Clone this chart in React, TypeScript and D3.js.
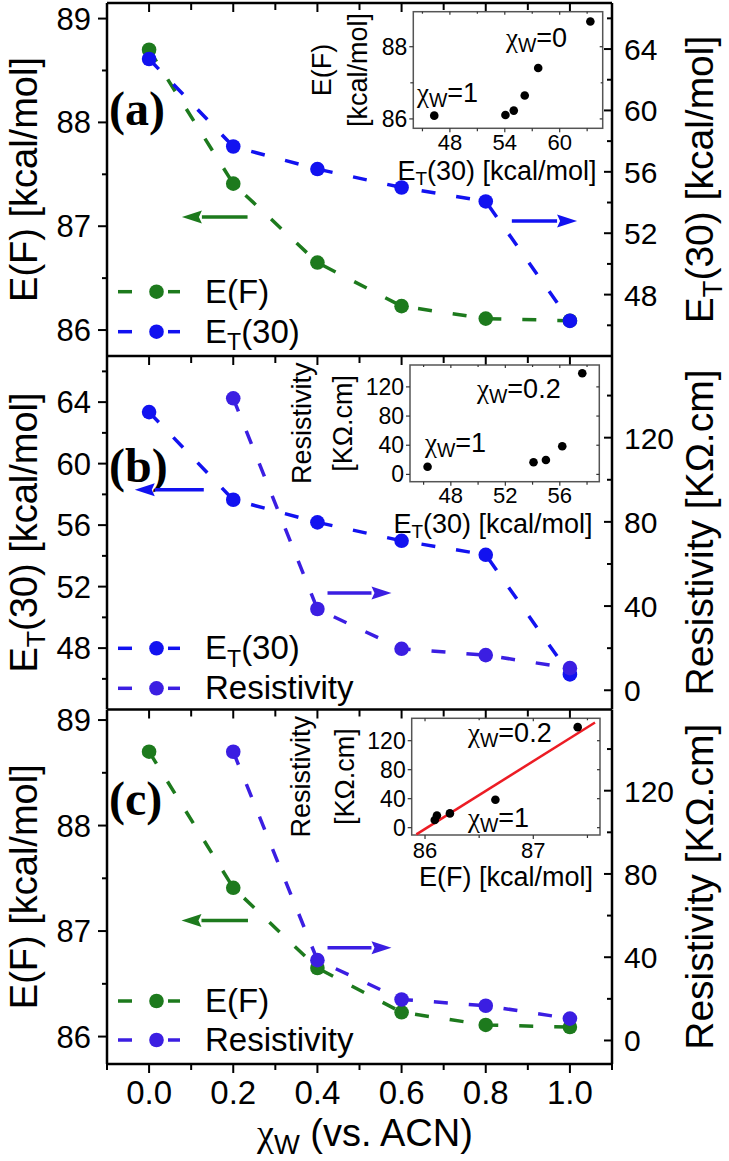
import React from "react";
import * as d3 from "d3";

// ---------------- data ----------------
const xW = [0, 0.2, 0.4, 0.6, 0.8, 1.0];
const eF = [88.7, 87.41, 86.65, 86.23, 86.11, 86.09];
const eT30 = [63.35, 57.65, 56.18, 54.98, 54.07, 46.29];
const xWRes = [0.2, 0.4, 0.6, 0.8, 1.0];
const resistivity = [138.7, 38.6, 19.7, 16.7, 10.5];

const xTicks = [0, 0.2, 0.4, 0.6, 0.8, 1.0];
const xTickLabels = ["0.0", "0.2", "0.4", "0.6", "0.8", "1.0"];
const xMinor = [0.1, 0.3, 0.5, 0.7, 0.9];
const eFTicks = [86, 87, 88, 89];
const eFMinor = [86.5, 87.5, 88.5];
const eTTicks = [48, 52, 56, 60, 64];
const eTMinor = [46, 50, 54, 58, 62, 66];
const resTicks = [0, 40, 80, 120];
const resMinor = [20, 60, 100, 140];

const insetAXTicks = [48, 54, 60];
const insetAXMinor = [45, 51, 57, 63];
const insetAYTicks = [86, 88];
const insetAYMinor = [87];
const insetBXTicks = [48, 52, 56];
const insetBXMinor = [46, 50, 54, 58];
const insetCXTicks = [86, 87];
const insetCXMinor = [86.5, 87.5];
const insetResTicks = [0, 40, 80, 120];

// ---------------- style ----------------
const SANS = "'Liberation Sans', Arial, sans-serif";
const SERIF = "'Liberation Serif', 'Times New Roman', serif";
const GREEN = "#1d7a1d";
const BLUE = "#1212f0";
const PURPLE = "#3b1ee2";
const RED = "#ec1c24";

const L = 107;
const R = 612;
const xScale = d3.scaleLinear().domain([-0.1, 1.1]).range([L, R]);

// linear fit for inset (c)
const fit = (() => {
  const xs = eF.slice(1);
  const ys = resistivity;
  const mx = d3.mean(xs) as number;
  const my = d3.mean(ys) as number;
  let sxy = 0, sxx = 0;
  xs.forEach((v, i) => { sxy += (v - mx) * (ys[i] - my); sxx += (v - mx) * (v - mx); });
  const slope = sxy / sxx;
  return { slope, intercept: my - slope * mx };
})();

const ET = (size: number) => (
  <>
    <tspan>E</tspan>
    <tspan fontSize={size * 0.7} dy={size * 0.22}>T</tspan>
    <tspan dy={-size * 0.22}>(30)</tspan>
  </>
);

const Chi = (size: number, rest: string) => (
  <>
    <tspan fontFamily={SERIF}>χ</tspan>
    <tspan fontSize={size * 0.72} dy={size * 0.2}>W</tspan>
    <tspan dy={-size * 0.2}>{rest}</tspan>
  </>
);

type Series = { xs: number[]; ys: number[]; side: "left" | "right"; color: string };

function Arrow({ x1, x2, y, color }: { x1: number; x2: number; y: number; color: string }) {
  const dir = x2 > x1 ? 1 : -1;
  const head = 20;
  const half = 6.5;
  const base = x2 - dir * head;
  return (
    <g>
      <line x1={x1} x2={base} y1={y} y2={y} stroke={color} strokeWidth={3.5} />
      <polygon points={`${x2},${y} ${base},${y - half} ${base + dir * 3},${y} ${base},${y + half}`} fill={color} />
    </g>
  );
}

function Panel({ cfg }: { cfg: any }) {
  const yl = d3.scaleLinear().domain(cfg.left.domain).range([cfg.bottom, cfg.top]);
  const yr = d3.scaleLinear().domain(cfg.right.domain).range([cfg.bottom, cfg.top]);
  const mid = (cfg.top + cfg.bottom) / 2;
  const line = (s: Series) => {
    const ys = s.side === "left" ? yl : yr;
    return d3.line<number>().x((_, i) => xScale(s.xs[i])).y((v) => ys(v))(s.ys) as string;
  };
  return (
    <g>
      <line x1={L} x2={R} y1={cfg.top} y2={cfg.top} stroke="#000" strokeWidth={2.5} />
      <line x1={L} x2={L} y1={cfg.top} y2={cfg.bottom} stroke="#000" strokeWidth={2.5} />
      <line x1={R} x2={R} y1={cfg.top} y2={cfg.bottom} stroke="#000" strokeWidth={2.5} />
      {xTicks.map((t) => (
        <line key={"tx" + t} x1={xScale(t)} x2={xScale(t)} y1={cfg.top} y2={cfg.top + 9} stroke="#000" strokeWidth={2} />
      ))}
      {xMinor.map((t) => (
        <line key={"tm" + t} x1={xScale(t)} x2={xScale(t)} y1={cfg.top} y2={cfg.top + 7} stroke="#000" strokeWidth={2} />
      ))}
      {cfg.left.ticks.map((t: number) => (
        <g key={"l" + t}>
          <line x1={L - 9} x2={L} y1={yl(t)} y2={yl(t)} stroke="#000" strokeWidth={2} />
          <text x={91} y={yl(t) + 11} textAnchor="end" fontFamily={SANS} fontSize={31}>{t}</text>
        </g>
      ))}
      {cfg.left.minor.map((t: number) => (
        <line key={"lm" + t} x1={L - 5} x2={L} y1={yl(t)} y2={yl(t)} stroke="#000" strokeWidth={2} />
      ))}
      {cfg.right.ticks.map((t: number) => (
        <g key={"r" + t}>
          <line x1={R - 8} x2={R} y1={yr(t)} y2={yr(t)} stroke="#000" strokeWidth={2} />
          <text x={624} y={yr(t) + 11} textAnchor="start" fontFamily={SANS} fontSize={30}>{t}</text>
        </g>
      ))}
      {cfg.right.minor.map((t: number) => (
        <line key={"rm" + t} x1={R - 5} x2={R} y1={yr(t)} y2={yr(t)} stroke="#000" strokeWidth={2} />
      ))}
      <text transform={`translate(37,${mid}) rotate(-90)`} textAnchor="middle" fontFamily={SANS} fontSize={38}>
        {cfg.left.title}
      </text>
      <text transform={`translate(713,${mid}) rotate(-90)`} textAnchor="middle" fontFamily={SANS} fontSize={39}>
        {cfg.right.title}
      </text>
      <text x={109} y={cfg.labelY} fontFamily={SERIF} fontWeight="bold" fontSize={48}>{cfg.label}</text>
      <Inset cfg={cfg.inset} />
      {cfg.series.map((s: Series, i: number) => (
        <g key={"s" + i}>
          <path d={line(s)} fill="none" stroke={s.color} strokeWidth={3.5} strokeDasharray="14,21" />
          {s.xs.map((xv, j) => (
            <circle key={j} cx={xScale(xv)} cy={(s.side === "left" ? yl : yr)(s.ys[j])} r={7.3} fill={s.color} />
          ))}
        </g>
      ))}
      {cfg.arrows.map((a: any, i: number) => (
        <Arrow key={"a" + i} x1={xScale(a.from)} x2={xScale(a.to)} y={(a.side === "left" ? yl : yr)(a.value)} color={a.color} />
      ))}
      {cfg.legend.map((lg: any, i: number) => (
        <g key={"lg" + i}>
          <line x1={118} x2={132} y1={lg.y} y2={lg.y} stroke={lg.color} strokeWidth={3.5} />
          <line x1={168} x2={180} y1={lg.y} y2={lg.y} stroke={lg.color} strokeWidth={3.5} />
          <circle cx={156.5} cy={lg.y} r={7.3} fill={lg.color} />
          <text x={205} y={lg.y + 11} fontFamily={SANS} fontSize={33}>{lg.label}</text>
        </g>
      ))}
    </g>
  );
}

function Inset({ cfg }: { cfg: any }) {
  const xs = d3.scaleLinear().domain(cfg.xDomain).range([cfg.x0, cfg.x1]);
  const ys = d3.scaleLinear().domain(cfg.yDomain).range([cfg.y1, cfg.y0]);
  const cy = (cfg.y0 + cfg.y1) / 2;
  return (
    <g>
      <rect x={cfg.x0} y={cfg.y0} width={cfg.x1 - cfg.x0} height={cfg.y1 - cfg.y0} fill="#fff" stroke="#555" strokeWidth={1.5} />
      {cfg.xTicks.map((t: number) => (
        <g key={"x" + t}>
          <line x1={xs(t)} x2={xs(t)} y1={cfg.y1} y2={cfg.y1 + 4} stroke="#333" strokeWidth={1.2} />
          <line x1={xs(t)} x2={xs(t)} y1={cfg.y0} y2={cfg.y0 + 3} stroke="#333" strokeWidth={1.2} />
          <text x={xs(t)} y={cfg.xLabelY} textAnchor="middle" fontFamily={SANS} fontSize={22}>{t}</text>
        </g>
      ))}
      {cfg.xMinor.map((t: number) => (
        <g key={"xm" + t}>
          <line x1={xs(t)} x2={xs(t)} y1={cfg.y1} y2={cfg.y1 + 3} stroke="#333" strokeWidth={1.2} />
          <line x1={xs(t)} x2={xs(t)} y1={cfg.y0} y2={cfg.y0 + 2} stroke="#333" strokeWidth={1.2} />
        </g>
      ))}
      {cfg.yTicks.map((t: number) => (
        <g key={"y" + t}>
          <line x1={cfg.x0 - 4} x2={cfg.x0} y1={ys(t)} y2={ys(t)} stroke="#333" strokeWidth={1.2} />
          <line x1={cfg.x1 - 3} x2={cfg.x1} y1={ys(t)} y2={ys(t)} stroke="#333" strokeWidth={1.2} />
          <text x={cfg.x0 - 6} y={ys(t) + 8} textAnchor="end" fontFamily={SANS} fontSize={23}>{t}</text>
        </g>
      ))}
      {cfg.yMinor.map((t: number) => (
        <g key={"ym" + t}>
          <line x1={cfg.x0 - 3} x2={cfg.x0} y1={ys(t)} y2={ys(t)} stroke="#333" strokeWidth={1.2} />
          <line x1={cfg.x1 - 2} x2={cfg.x1} y1={ys(t)} y2={ys(t)} stroke="#333" strokeWidth={1.2} />
        </g>
      ))}
      {cfg.fit && (
        <line
          x1={xs(cfg.fit.from)} y1={ys(fit.intercept + fit.slope * cfg.fit.from)}
          x2={xs(cfg.fit.to)} y2={ys(fit.intercept + fit.slope * cfg.fit.to)}
          stroke={RED} strokeWidth={2.5}
        />
      )}
      {cfg.px.map((v: number, i: number) => (
        <circle key={i} cx={xs(v)} cy={ys(cfg.py[i])} r={4.3} fill="#000" />
      ))}
      <text x={cfg.xTitleX} y={cfg.xTitleY} textAnchor="middle" fontFamily={SANS} fontSize={27}>{cfg.xTitle}</text>
      {cfg.yTitles.map((yt: any, i: number) => (
        <text key={i} transform={`translate(${yt.x},${cy}) rotate(-90)`} textAnchor="middle" fontFamily={SANS} fontSize={27}>
          {yt.text}
        </text>
      ))}
      {cfg.notes.map((n: any, i: number) => (
        <text key={i} x={n.x} y={n.y} fontFamily={SANS} fontSize={27}>{Chi(27, n.text)}</text>
      ))}
    </g>
  );
}

const EFTitle = "E(F) [kcal/mol]";
const ETTitle = <>{ET(39)}<tspan> [kcal/mol]</tspan></>;
const ETTitleL = <>{ET(38)}<tspan> [kcal/mol]</tspan></>;
const ResTitle = "Resistivity [KΩ.cm]";

const panels = [
  {
    top: 3, bottom: 356, label: "(a)", labelY: 125,
    left: { domain: [85.75, 89.15], ticks: eFTicks, minor: eFMinor, title: EFTitle },
    right: { domain: [44, 67], ticks: eTTicks, minor: eTMinor, title: ETTitle },
    series: [
      { xs: xW, ys: eF, side: "left", color: GREEN },
      { xs: xW, ys: eT30, side: "right", color: BLUE },
    ],
    arrows: [
      { from: 0.234, to: 0.078, value: 87.09, side: "left", color: GREEN },
      { from: 0.862, to: 1.017, value: 52.8, side: "right", color: BLUE },
    ],
    legend: [
      { y: 291.7, color: GREEN, label: "E(F)" },
      { y: 331.7, color: BLUE, label: ET(33) },
    ],
    inset: {
      x0: 413.3, x1: 602.7, y0: 11.7, y1: 128.3,
      xDomain: [44.0, 64.7], yDomain: [85.74, 88.97],
      xTicks: insetAXTicks, xMinor: insetAXMinor, yTicks: insetAYTicks, yMinor: insetAYMinor,
      px: eT30, py: eF, xLabelY: 150,
      xTitle: <>{ET(27)}<tspan> [kcal/mol]</tspan></>, xTitleX: 497, xTitleY: 179.5,
      yTitles: [{ x: 331, text: "E(F)" }, { x: 367, text: "[kcal/mol]" }],
      notes: [{ x: 506, y: 47, text: "=0" }, { x: 417, y: 102, text: "=1" }],
    },
  },
  {
    top: 356, bottom: 709, label: "(b)", labelY: 481.5,
    left: { domain: [44.04, 67.0], ticks: eTTicks, minor: eTMinor, title: ETTitleL },
    right: { domain: [-8.9, 158.8], ticks: resTicks, minor: resMinor, title: ResTitle },
    series: [
      { xs: xW, ys: eT30, side: "left", color: BLUE },
      { xs: xWRes, ys: resistivity, side: "right", color: PURPLE },
    ],
    arrows: [
      { from: 0.13, to: -0.034, value: 58.3, side: "left", color: BLUE },
      { from: 0.424, to: 0.576, value: 46.2, side: "right", color: PURPLE },
    ],
    legend: [
      { y: 648.3, color: BLUE, label: ET(33) },
      { y: 688.3, color: PURPLE, label: "Resistivity" },
    ],
    inset: {
      x0: 410, x1: 599.3, y0: 365, y1: 481.7,
      xDomain: [45.0, 58.9], yDomain: [-10, 150],
      xTicks: insetBXTicks, xMinor: insetBXMinor, yTicks: insetResTicks, yMinor: [],
      px: eT30.slice(1), py: resistivity, xLabelY: 503,
      xTitle: <>{ET(27)}<tspan> [kcal/mol]</tspan></>, xTitleX: 493, xTitleY: 532.5,
      yTitles: [{ x: 311, text: "Resistivity" }, { x: 352, text: "[KΩ.cm]" }],
      notes: [{ x: 477, y: 398, text: "=0.2" }, { x: 425, y: 452, text: "=1" }],
    },
  },
  {
    top: 709.5, bottom: 1064, label: "(c)", labelY: 815,
    left: { domain: [85.74, 89.1], ticks: eFTicks, minor: eFMinor, title: EFTitle },
    right: { domain: [-11.3, 159], ticks: resTicks, minor: resMinor, title: ResTitle },
    series: [
      { xs: xW, ys: eF, side: "left", color: GREEN },
      { xs: xWRes, ys: resistivity, side: "right", color: PURPLE },
    ],
    arrows: [
      { from: 0.235, to: 0.077, value: 87.1, side: "left", color: GREEN },
      { from: 0.424, to: 0.576, value: 44.5, side: "right", color: PURPLE },
    ],
    legend: [
      { y: 1001, color: GREEN, label: "E(F)" },
      { y: 1040, color: PURPLE, label: "Resistivity" },
    ],
    inset: {
      x0: 411.7, x1: 600, y0: 718.3, y1: 835,
      xDomain: [85.877, 87.616], yDomain: [-10.1, 150.9],
      xTicks: insetCXTicks, xMinor: insetCXMinor, yTicks: insetResTicks, yMinor: [],
      px: eF.slice(1), py: resistivity, xLabelY: 858,
      xTitle: "E(F) [kcal/mol]", xTitleX: 506, xTitleY: 886,
      yTitles: [{ x: 310, text: "Resistivity" }, { x: 354, text: "[KΩ.cm]" }],
      fit: { from: 85.92, to: 87.57 },
      notes: [{ x: 468, y: 742, text: "=0.2" }, { x: 468, y: 827, text: "=1" }],
    },
  },
];

export default function App() {
  const bottom = 1064;
  return (
    <svg width={729} height={1161} style={{ position: "absolute", left: 0, top: 0 }}>
      <rect x={0} y={0} width={729} height={1161} fill="#fff" />
      {panels.map((p, i) => (
        <Panel key={i} cfg={p} />
      ))}
      <line x1={L} x2={R} y1={bottom} y2={bottom} stroke="#000" strokeWidth={2.5} />
      {xTicks.map((t, i) => (
        <g key={"bx" + t}>
          <line x1={xScale(t)} x2={xScale(t)} y1={bottom} y2={bottom + 9} stroke="#000" strokeWidth={2} />
          <text x={xScale(t)} y={1104} textAnchor="middle" fontFamily={SANS} fontSize={33}>{xTickLabels[i]}</text>
        </g>
      ))}
      {[-0.1, ...xMinor, 1.1].map((t) => (
        <line key={"bm" + t} x1={xScale(t)} x2={xScale(t)} y1={bottom} y2={bottom + 6} stroke="#000" strokeWidth={2} />
      ))}
      <text x={365} y={1146} textAnchor="middle" fontFamily={SANS} fontSize={38}>
        {Chi(38, " (vs. ACN)")}
      </text>
    </svg>
  );
}
